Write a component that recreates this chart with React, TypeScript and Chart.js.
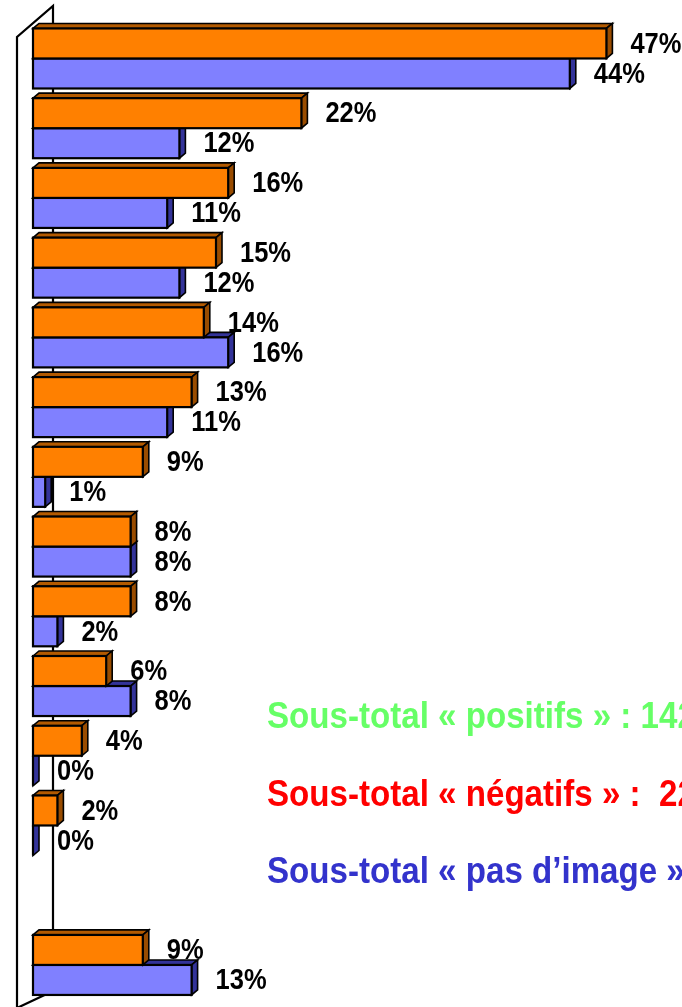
import React, { useEffect, useRef } from 'react';
import { Chart, registerables } from 'chart.js';

Chart.register(...registerables);

// ---- data ----
const categories = ['C1', 'C2', 'C3', 'C4', 'C5', 'C6', 'C7', 'C8', 'C9', 'C10', 'C11', 'C12', '', 'C14'];
const orangeValues: (number | null)[] = [47, 22, 16, 15, 14, 13, 9, 8, 8, 6, 4, 2, null, 9];
const blueValues: (number | null)[] = [44, 12, 11, 12, 16, 11, 1, 8, 2, 8, 0, 0, null, 13];
const subtotalTexts = [
  'Sous-total « positifs » : 142%',
  'Sous-total « négatifs » :  22%',
  'Sous-total « pas d’image » :',
];
const subtotalColors = ['#66FF66', '#FF0000', '#3333CC'];

const FONT = "'Liberation Sans', Arial, sans-serif";

const colors = [
  { front: '#FF8000', top: '#B35A00', side: '#994C00' },
  { front: '#8080FF', top: '#333399', side: '#333399' },
];

const DX = 6;
const DY = 5;

const wallPlugin = {
  id: 'wall3d',
  beforeDatasetsDraw(chart: any) {
    const { ctx, chartArea } = chart;
    const fx = chartArea.left - 16;
    const bx = chartArea.left + 20;
    ctx.save();
    ctx.strokeStyle = '#000';
    ctx.lineWidth = 2.2;
    ctx.beginPath();
    ctx.moveTo(fx, chart.height + 2);
    ctx.lineTo(fx, 37);
    ctx.lineTo(bx, 6);
    ctx.lineTo(bx, chart.height - 16);
    ctx.lineTo(fx, chart.height + 1);
    ctx.stroke();
    ctx.restore();
  },
};

const barsPlugin = {
  id: 'bars3d',
  afterDatasetsDraw(chart: any) {
    const { ctx } = chart;
    ctx.save();
    ctx.lineJoin = 'miter';
    [1, 0].forEach((di) => {
      const meta = chart.getDatasetMeta(di);
      const c = colors[di];
      meta.data.forEach((el: any, i: number) => {
        const v = chart.data.datasets[di].data[i];
        if (v === null || v === undefined) return;
        const p = el.getProps(['x', 'y', 'base', 'height'], true);
        const left = Math.min(p.base, p.x);
        const right = Math.max(p.base, p.x);
        const top = p.y - p.height / 2;
        const bottom = p.y + p.height / 2;
        // top face
        ctx.beginPath();
        ctx.moveTo(left, top);
        ctx.lineTo(left + DX, top - DY);
        ctx.lineTo(right + DX, top - DY);
        ctx.lineTo(right, top);
        ctx.closePath();
        ctx.fillStyle = c.top;
        ctx.fill();
        ctx.lineWidth = 1.6;
        ctx.strokeStyle = '#000';
        ctx.stroke();
        // side face
        ctx.beginPath();
        ctx.moveTo(right, top);
        ctx.lineTo(right + DX, top - DY);
        ctx.lineTo(right + DX, bottom - DY);
        ctx.lineTo(right, bottom);
        ctx.closePath();
        ctx.fillStyle = c.side;
        ctx.fill();
        ctx.stroke();
        // front face
        ctx.fillStyle = c.front;
        ctx.fillRect(left, top, right - left, bottom - top);
        ctx.lineWidth = 2.2;
        ctx.strokeRect(left, top, right - left, bottom - top);
      });
    });
    // value labels
    ctx.fillStyle = '#000';
    ctx.textBaseline = 'middle';
    ctx.textAlign = 'left';
    ctx.font = `bold 30px ${FONT}`;
    [0, 1].forEach((di) => {
      const meta = chart.getDatasetMeta(di);
      meta.data.forEach((el: any, i: number) => {
        const v = chart.data.datasets[di].data[i];
        if (v === null || v === undefined) return;
        const p = el.getProps(['x', 'y'], true);
        ctx.save();
        ctx.translate(p.x + 24, p.y + 1);
        ctx.scale(0.85, 1);
        ctx.fillText(`${v}%`, 0, 0);
        ctx.restore();
      });
    });
    ctx.restore();
  },
  afterDraw(chart: any) {
    const { ctx } = chart;
    ctx.save();
    ctx.font = `bold 36px ${FONT}`;
    ctx.textBaseline = 'alphabetic';
    ctx.textAlign = 'left';
    const ys = [728, 806, 883];
    subtotalTexts.forEach((t, k) => {
      ctx.save();
      ctx.fillStyle = subtotalColors[k];
      ctx.translate(267, ys[k]);
      ctx.scale(0.92, 1);
      ctx.fillText(t, 0, 0);
      ctx.restore();
    });
    ctx.restore();
  },
};

export default function App() {
  const ref = useRef<HTMLCanvasElement | null>(null);
  useEffect(() => {
    document.body.style.margin = '0';
    document.body.style.overflow = 'hidden';
    const canvas = ref.current!;
    const chart = new Chart(canvas, {
      type: 'bar',
      data: {
        labels: categories,
        datasets: [
          {
            label: 'Série 1',
            data: orangeValues,
            backgroundColor: 'rgba(0,0,0,0)',
            borderWidth: 0,
            barPercentage: 1,
            categoryPercentage: 0.861,
          },
          {
            label: 'Série 2',
            data: blueValues,
            backgroundColor: 'rgba(0,0,0,0)',
            borderWidth: 0,
            barPercentage: 1,
            categoryPercentage: 0.861,
          },
        ],
      },
      options: {
        indexAxis: 'y',
        responsive: false,
        animation: false,
        devicePixelRatio: 1,
        layout: { padding: { left: 33, right: 39, top: 23.6, bottom: 7.2 } },
        plugins: { legend: { display: false }, tooltip: { enabled: false } },
        scales: {
          x: { display: false, min: 0, max: 50 },
          y: { display: false },
        },
      },
      plugins: [wallPlugin, barsPlugin],
    });
    return () => chart.destroy();
  }, []);
  return (
    <canvas ref={ref} width={682} height={1007} style={{ display: 'block', width: 682, height: 1007 }} />
  );
}
